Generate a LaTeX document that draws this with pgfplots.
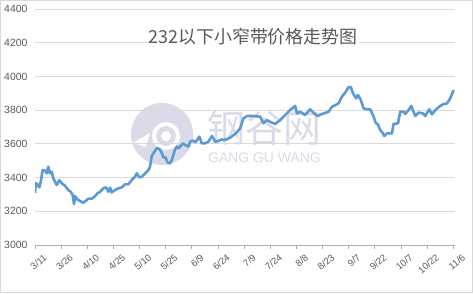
\documentclass[border=0pt]{standalone}
\usepackage{pgfplots}
\pgfplotsset{compat=1.18}
\usepackage{fontspec}
\setmainfont{Liberation Sans}
\newfontfamily\cjk{Noto Sans CJK SC}
\definecolor{lineblue}{RGB}{91,155,213}
\definecolor{gridc}{RGB}{217,217,217}
\definecolor{txt}{RGB}{89,89,89}
\definecolor{wm}{RGB}{218,218,232}
\begin{document}
\begin{tikzpicture}[x=1bp,y=1bp]
\path[use as bounding box] (0,0) rectangle (473,293);
\draw[gridc, line width=1.2bp] (0.6,0.6) rectangle (472.4,292.4);
% watermark
\fill[wm] (162,159) circle (31);
\draw[white, line width=4bp] (166,157) circle (12);
\fill[white] (166,157) circle (5);
\fill[white] (133,150) -- (150,160) -- (146,146) -- cycle;
\node[text=wm, font=\cjk\fontsize{38}{38}\selectfont, inner sep=0] at (264.5,164.5) {钢谷网};
\node[text=wm, font=\fontsize{14}{14}\selectfont, inner sep=0] at (264.5,135) {GANG GU WANG};
\begin{axis}[at={(35bp,48bp)}, anchor=south west, scale only axis,
  width=420bp, height=236bp,
  xmin=0, xmax=241, ymin=3000, ymax=4400,
  ytick={3000,3200,...,4400},
  xtick={0,15,...,240},
  xticklabels={3/11,3/26,4/10,4/25,5/10,5/25,6/9,6/24,7/9,7/24,8/8,8/23,9/7,9/22,10/7,10/22,11/6},
  separate axis lines,
  axis x line*=bottom, axis y line*=left,
  x axis line style={draw=gridc!80!black, line width=0.8bp},
  y axis line style={draw=none},
  ytick style={draw=none},
  xtick style={draw=gridc!80!black, line width=0.8bp},
  xtick align=outside, major tick length=4bp,
  ymajorgrids, grid style={gridc, line width=0.8bp},
  /pgf/number format/assume math mode=true,
  /pgf/number format/1000 sep={},
  yticklabel style={text=txt, font=\fontsize{10.5}{10.5}\selectfont, xshift=-4bp},
  xticklabel style={text=txt, font=\fontsize{9.5}{9.5}\selectfont, rotate=40, anchor=north east, inner sep=0.5pt, yshift=-8bp, xshift=4bp},
]
\addplot[lineblue, line width=2.6bp, line join=round] coordinates {
(0,3310) (0.5,3366) (1.3,3360) (2.5,3342) (3.3,3375) (4.4,3445) (5.7,3440) (6.7,3425) (7.6,3465) (8.6,3425) (9.6,3435) (10.5,3396) (12.5,3356) (14.0,3385) (15.3,3366) (17.2,3352) (19.1,3326) (20.5,3316) (21.6,3297) (22.4,3243) (23.0,3290) (24.3,3271) (25.4,3263) (27.7,3251) (29.3,3263) (30.6,3275) (32.6,3275) (34.5,3290) (35.8,3306) (37.3,3316) (39.2,3336) (40.8,3342) (42.1,3316) (43.1,3340) (44.0,3312) (45.9,3326) (47.8,3336) (49.8,3342) (51.7,3360) (53.6,3360) (55.5,3385) (57.4,3405) (58.4,3425) (59.9,3401) (61.3,3405) (63.2,3425) (65.1,3445) (66.0,3465) (67.0,3528) (68.3,3550) (69.9,3574) (71.4,3570) (72.8,3545) (73.7,3520) (75.0,3520) (76.0,3490) (77.5,3484) (78.5,3504) (80.4,3568) (81.4,3584) (82.3,3574) (83.3,3584) (84.8,3603) (86.1,3594) (88.0,3584) (89.0,3613) (90.5,3620) (91.9,3610) (92.8,3620) (94.3,3643) (95.7,3603) (97.6,3603) (99.5,3613) (101.5,3647) (103.4,3613) (105.3,3617) (107.2,3627) (108.1,3623) (110.1,3627) (112.0,3637) (113.9,3652) (115.8,3668) (117.7,3692) (119.6,3751) (121.6,3765) (125.3,3765) (129.2,3761) (131.1,3722) (133.0,3741) (134.9,3731) (137.8,3718) (140.7,3741) (143.5,3771) (146.4,3801) (149.3,3825) (150.3,3781) (152.2,3790) (155.0,3771) (157.9,3805) (159.8,3785) (162.1,3765) (164.6,3777) (168.4,3790) (170.4,3820) (172.3,3830) (174.2,3840) (176.1,3880) (178.0,3904) (179.9,3936) (181.3,3936) (182.4,3900) (184.3,3870) (185.3,3890) (187.0,3860) (188.5,3811) (190.5,3805) (192.4,3805) (194.3,3761) (195.6,3722) (196.6,3718) (198.1,3682) (199.7,3662) (200.4,3647) (202.0,3662) (204.8,3662) (205.7,3718) (208.3,3722) (209.6,3791) (211.5,3791) (212.5,3777) (214.4,3801) (215.9,3825) (218.2,3765) (220.1,3785) (222.6,3781) (223.9,3765) (226.2,3805) (227.8,3775) (229.7,3801) (232.5,3825) (234.4,3836) (236.4,3840) (238.3,3870) (240.2,3919)
};
\end{axis}
\node[fill=white, text=txt, font=\cjk\fontsize{18}{18}\selectfont, inner sep=1pt] at (253,256) {232以下小窄带价格走势图};
\end{tikzpicture}
\end{document}
